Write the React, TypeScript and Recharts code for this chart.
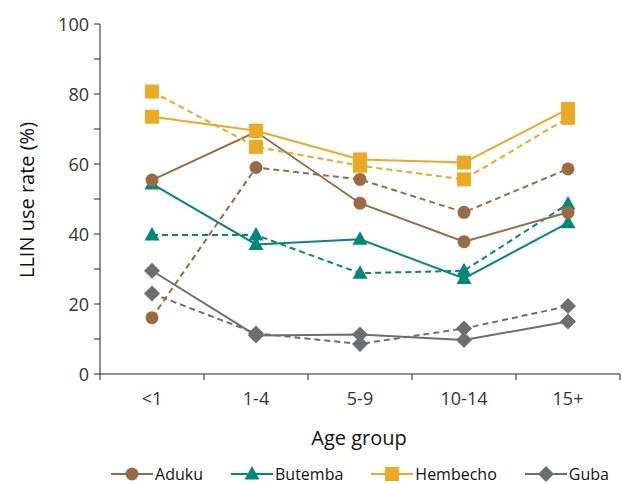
import React from "react"
import { LineChart, Line, XAxis, YAxis, Legend, Label } from "recharts"

const ageGroups = ["<1", "1-4", "5-9", "10-14", "15+"]

// solid = first survey, dashed = second survey
const adukuA = [55.4, 69.2, 48.8, 37.8, 46.2]
const adukuB = [16.1, 59.0, 55.6, 46.2, 58.6]
const butembaA = [54.3, 37.0, 38.5, 27.3, 43.2]
const butembaB = [39.7, 39.7, 28.8, 29.5, 48.6]
const hembechoA = [73.5, 69.5, 61.3, 60.4, 75.7]
const hembechoB = [80.7, 64.9, 59.5, 55.6, 73.2]
const gubaA = [29.5, 11.0, 11.3, 9.7, 15.0]
const gubaB = [23.0, 11.6, 8.6, 13.0, 19.4]

const yTicks = [0, 10, 20, 30, 40, 50, 60, 70, 80, 90, 100]

const data = ageGroups.map((g, i) => ({
  group: g,
  adukuA: adukuA[i],
  adukuB: adukuB[i],
  butembaA: butembaA[i],
  butembaB: butembaB[i],
  hembechoA: hembechoA[i],
  hembechoB: hembechoB[i],
  gubaA: gubaA[i],
  gubaB: gubaB[i],
}))

const colors = {
  aduku: "#9A6A42",
  butemba: "#00887A",
  hembecho: "#EDA921",
  guba: "#6D6E71",
}

const FONT = "'Open Sans', 'Noto Sans', sans-serif"
const W = 622
const H = 484
const MARGIN = { top: 24, right: 2, bottom: 0, left: 0 }
const Y_WIDTH = 100
const TICK_SIZE = 6
const TICK_MARGIN = 12

type Shape = "circle" | "triangle" | "square" | "diamond"

const Marker = ({ shape, cx, cy, color }: { shape: Shape; cx: number; cy: number; color: string }) => {
  if (shape === "circle") return <circle cx={cx} cy={cy} r={6.5} fill={color} />
  if (shape === "square") return <rect x={cx - 7} y={cy - 7} width={14} height={14} fill={color} />
  if (shape === "triangle")
    return <path d={`M${cx},${cy - 8}L${cx + 7.5},${cy + 5.5}L${cx - 7.5},${cy + 5.5}Z`} fill={color} />
  return <path d={`M${cx},${cy - 8}L${cx + 8},${cy}L${cx},${cy + 8}L${cx - 8},${cy}Z`} fill={color} />
}

const makeDot = (shape: Shape, color: string) => (props: any) => {
  const { cx, cy, index } = props
  if (cx == null || cy == null) return <g key={index} />
  return <Marker key={index} shape={shape} cx={cx} cy={cy} color={color} />
}

const series: { key: string; color: string; shape: Shape; dashed: boolean }[] = [
  { key: "gubaB", color: colors.guba, shape: "diamond", dashed: true },
  { key: "gubaA", color: colors.guba, shape: "diamond", dashed: false },
  { key: "butembaB", color: colors.butemba, shape: "triangle", dashed: true },
  { key: "butembaA", color: colors.butemba, shape: "triangle", dashed: false },
  { key: "adukuB", color: colors.aduku, shape: "circle", dashed: true },
  { key: "adukuA", color: colors.aduku, shape: "circle", dashed: false },
  { key: "hembechoB", color: colors.hembecho, shape: "square", dashed: true },
  { key: "hembechoA", color: colors.hembecho, shape: "square", dashed: false },
]

const legendItems: { name: string; color: string; shape: Shape }[] = [
  { name: "Aduku", color: colors.aduku, shape: "circle" },
  { name: "Butemba", color: colors.butemba, shape: "triangle" },
  { name: "Hembecho", color: colors.hembecho, shape: "square" },
  { name: "Guba", color: colors.guba, shape: "diamond" },
]

const renderLegend = () => (
  <div style={{ display: "flex", justifyContent: "center", gap: 28, height: 20, alignItems: "center", paddingLeft: 100 }}>
    {legendItems.map((it) => (
      <div key={it.name} style={{ display: "flex", alignItems: "center" }}>
        <svg width={42} height={20}>
          <line x1={0} y1={10} x2={42} y2={10} stroke={it.color} strokeWidth={2} />
          <Marker shape={it.shape} cx={21} cy={10} color={it.color} />
        </svg>
        <span style={{ fontFamily: FONT, fontSize: 16, color: "#111", marginLeft: 2 }}>{it.name}</span>
      </div>
    ))}
  </div>
)

const renderYTick = (props: any) => {
  const { x, y, payload } = props
  if (payload.value % 20 !== 0) return <g />
  return (
    <text x={x} y={y} dy={6.5} textAnchor="end" fontFamily={FONT} fontSize={18} fill="#333">
      {payload.value}
    </text>
  )
}

// category label at band centre, tick marks at band edges
const halfBand = (W - MARGIN.left - MARGIN.right - Y_WIDTH) / ageGroups.length / 2
const renderXTick = (props: any) => {
  const { x, y, payload, index } = props
  const axisY = y - TICK_SIZE - TICK_MARGIN
  const last = index === ageGroups.length - 1
  return (
    <g>
      <line x1={x - halfBand} y1={axisY} x2={x - halfBand} y2={axisY + TICK_SIZE} stroke="#222" />
      {last && <line x1={x + halfBand} y1={axisY} x2={x + halfBand} y2={axisY + TICK_SIZE} stroke="#222" />}
      <text x={x} y={y} dy={13} textAnchor="middle" fontFamily={FONT} fontSize={18} fill="#333">
        {payload.value}
      </text>
    </g>
  )
}

export default function App() {
  return (
    <div style={{ position: "absolute", left: 0, top: 0, width: W, height: H, background: "#fff" }}>
      <LineChart width={W} height={H} data={data} margin={MARGIN}>
        <XAxis
          dataKey="group"
          scale="band"
          tickLine={false}
          axisLine={{ stroke: "#222" }}
          tickSize={TICK_SIZE}
          tickMargin={TICK_MARGIN}
          height={90}
          tick={renderXTick}
          interval={0}
        >
          <Label
            content={() => (
              <text x={359} y={445} textAnchor="middle" fontFamily={FONT} fontSize={20} fill="#111">
                Age group
              </text>
            )}
          />
        </XAxis>
        <YAxis
          domain={[0, 100]}
          ticks={yTicks}
          interval={0}
          width={Y_WIDTH}
          tickSize={TICK_SIZE}
          tickMargin={5}
          axisLine={{ stroke: "#222" }}
          tickLine={{ stroke: "#222" }}
          tick={renderYTick}
        >
          <Label
            content={() => (
              <text
                x={34}
                y={200}
                textAnchor="middle"
                transform="rotate(-90 34 200)"
                fontFamily={FONT}
                fontSize={20}
                fill="#111"
              >
                LLIN use rate (%)
              </text>
            )}
          />
        </YAxis>
        <Legend verticalAlign="bottom" content={renderLegend} />
        {series.map((s) => (
          <Line
            key={s.key}
            dataKey={s.key}
            stroke={s.color}
            strokeWidth={2}
            strokeDasharray={s.dashed ? "6 4" : undefined}
            dot={makeDot(s.shape, s.color)}
            activeDot={false}
            legendType="none"
            isAnimationActive={false}
          />
        ))}
      </LineChart>
    </div>
  )
}
